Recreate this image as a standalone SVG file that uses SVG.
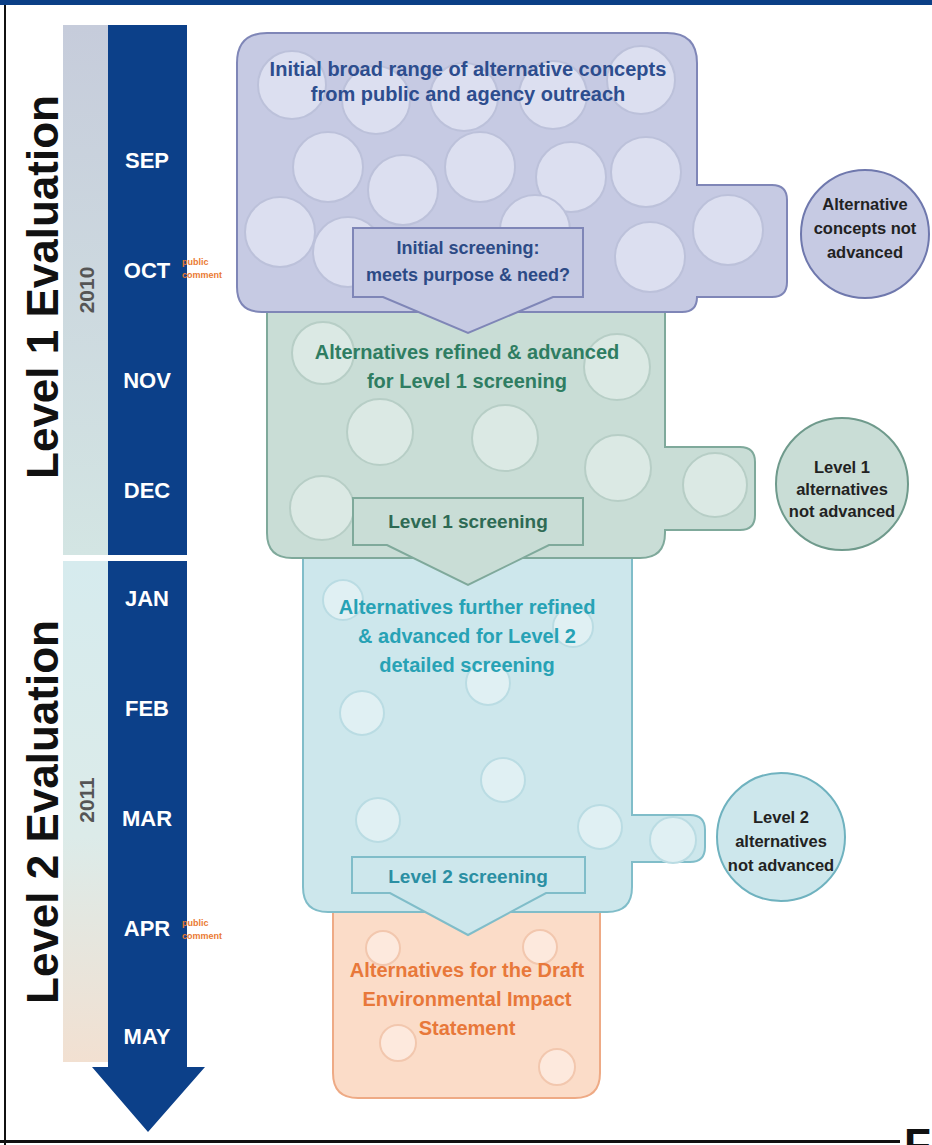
<svg xmlns="http://www.w3.org/2000/svg" width="932" height="1145" viewBox="0 0 932 1145">
<defs>
<linearGradient id="g2010" x1="0" y1="0" x2="0" y2="1"><stop offset="0" stop-color="#c6ccdb"/><stop offset="1" stop-color="#d3e5e3"/></linearGradient>
<linearGradient id="g2011" x1="0" y1="0" x2="0" y2="1"><stop offset="0" stop-color="#d6ebee"/><stop offset="0.55" stop-color="#dcebe9"/><stop offset="1" stop-color="#f2e0d1"/></linearGradient>
<style>
text{font-family:"Liberation Sans",Arial,sans-serif;font-weight:bold}
.month{fill:#ffffff;font-size:22px;text-anchor:middle}
.pc{fill:#ea7a33;font-size:9px}
.lvl{fill:#111111;font-size:44px;text-anchor:middle}
.yr{fill:#555555;font-size:21px;text-anchor:middle}
.s1{fill:#c6cae3;stroke:#7f86b7;stroke-width:2}
.c1{fill:#dcdff0;stroke:#bcc1da;stroke-width:2}
.s2{fill:#c9ddd6;stroke:#7fa99b;stroke-width:2}
.c2{fill:#dbe9e4;stroke:#b7cec6;stroke-width:2}
.s3{fill:#cde7ec;stroke:#80bdc9;stroke-width:2}
.c3{fill:#e0f0f3;stroke:#badce3;stroke-width:2}
.s4{fill:#fbdcc8;stroke:#eeaa85;stroke-width:2}
.c4{fill:#fde9dd;stroke:#f2c7ae;stroke-width:2}
.h{font-size:20px;text-anchor:middle}
.sc{font-size:19px;text-anchor:middle}
.sci{font-size:18px;text-anchor:middle}
.ot{font-size:16.5px;text-anchor:middle;fill:#222222}
</style>
</defs>
<rect x="0" y="0" width="932" height="1145" fill="#ffffff"/>

<g id="timeline">
<rect x="63" y="25" width="45" height="530" fill="url(#g2010)"/>
<rect x="63" y="561" width="45" height="501" fill="url(#g2011)"/>
<rect x="108" y="25" width="79" height="530" fill="#0c4089"/>
<path d="M108,561 H187 V1067 H205 L148,1132 L92,1067 H108 Z" fill="#0c4089"/>
<text class="lvl" transform="translate(58,287) rotate(-90)">Level 1 Evaluation</text>
<text class="lvl" transform="translate(58,812) rotate(-90)">Level 2 Evaluation</text>
<text class="yr" transform="translate(94,290) rotate(-90)">2010</text>
<text class="yr" transform="translate(94,800) rotate(-90)">2011</text>
<text class="month" x="147" y="168">SEP</text>
<text class="month" x="147" y="278">OCT</text>
<text class="month" x="147" y="388">NOV</text>
<text class="month" x="147" y="498">DEC</text>
<text class="month" x="147" y="606">JAN</text>
<text class="month" x="147" y="716">FEB</text>
<text class="month" x="147" y="826">MAR</text>
<text class="month" x="147" y="936">APR</text>
<text class="month" x="147" y="1044">MAY</text>
<text class="pc" x="182" y="265">public</text>
<text class="pc" x="182" y="278">comment</text>
<text class="pc" x="182" y="926">public</text>
<text class="pc" x="182" y="939">comment</text>
</g>

<g id="stage-deis">
<path class="s4" d="M333,905 H600 V1073 Q600,1098 575,1098 H358 Q333,1098 333,1073 Z"/>
<circle class="c4" cx="383" cy="948" r="17"/>
<circle class="c4" cx="540" cy="947" r="17"/>
<circle class="c4" cx="398" cy="1043" r="18"/>
<circle class="c4" cx="557" cy="1067" r="18"/>
<text class="h" fill="#e8783a" x="467" y="977">Alternatives for the Draft</text>
<text class="h" fill="#e8783a" x="467" y="1006">Environmental Impact</text>
<text class="h" fill="#e8783a" x="467" y="1035">Statement</text>
</g>

<g id="stage-level2">
<path class="s3" d="M303,552 H632 V815 H690 Q705,815 705,830 V847 Q705,862 690,862 H632 V887 Q632,912 607,912 H328 Q303,912 303,887 Z"/>
<circle class="c3" cx="343" cy="600" r="20"/>
<circle class="c3" cx="573" cy="627" r="20"/>
<circle class="c3" cx="488" cy="683" r="22"/>
<circle class="c3" cx="362" cy="713" r="22"/>
<circle class="c3" cx="503" cy="780" r="22"/>
<circle class="c3" cx="378" cy="820" r="22"/>
<circle class="c3" cx="600" cy="827" r="22"/>
<circle class="c3" cx="673" cy="840" r="23"/>
<text class="h" fill="#27a2b5" x="467" y="614">Alternatives further refined</text>
<text class="h" fill="#27a2b5" x="467" y="643">&amp; advanced for Level 2</text>
<text class="h" fill="#27a2b5" x="467" y="672">detailed screening</text>
</g>
<g id="screen-level2">
<path class="s3" d="M352,857 H585 V893 H546 L468,935 L390,893 H352 Z"/>
<text class="sc" fill="#2a8fa3" x="468" y="883">Level 2 screening</text>
</g>

<g id="stage-level1">
<path class="s2" d="M267,305 H665 V447 H740 Q755,447 755,462 V515 Q755,530 740,530 H665 V533 Q665,558 640,558 H292 Q267,558 267,533 Z"/>
<circle class="c2" cx="323" cy="353" r="31"/>
<circle class="c2" cx="617" cy="367" r="33"/>
<circle class="c2" cx="380" cy="432" r="33"/>
<circle class="c2" cx="505" cy="438" r="33"/>
<circle class="c2" cx="618" cy="468" r="33"/>
<circle class="c2" cx="715" cy="485" r="32"/>
<circle class="c2" cx="322" cy="508" r="32"/>
<text class="h" fill="#2f7d62" x="467" y="359">Alternatives refined &amp; advanced</text>
<text class="h" fill="#2f7d62" x="467" y="388">for Level 1 screening</text>
</g>
<g id="screen-level1">
<path class="s2" d="M353,498 H583 V545 H549 L468,585 L387,545 H353 Z"/>
<text class="sc" fill="#2e6a54" x="468" y="528">Level 1 screening</text>
</g>

<g id="stage-initial">
<path class="s1" d="M267,33 H667 Q697,33 697,63 V185 H772 Q787,185 787,200 V282 Q787,297 772,297 H697 Q697,312 682,312 H262 Q237,312 237,287 V63 Q237,33 267,33 Z"/>
<circle class="c1" cx="292" cy="85" r="34"/>
<circle class="c1" cx="376" cy="100" r="34"/>
<circle class="c1" cx="464" cy="97" r="34"/>
<circle class="c1" cx="553" cy="95" r="34"/>
<circle class="c1" cx="641" cy="80" r="34"/>
<circle class="c1" cx="328" cy="167" r="35"/>
<circle class="c1" cx="403" cy="190" r="35"/>
<circle class="c1" cx="480" cy="167" r="35"/>
<circle class="c1" cx="571" cy="177" r="35"/>
<circle class="c1" cx="646" cy="172" r="35"/>
<circle class="c1" cx="280" cy="232" r="35"/>
<circle class="c1" cx="348" cy="252" r="35"/>
<circle class="c1" cx="535" cy="230" r="35"/>
<circle class="c1" cx="650" cy="257" r="35"/>
<circle class="c1" cx="728" cy="230" r="35"/>
<text class="h" fill="#2d4d8e" x="468" y="76">Initial broad range of alternative concepts</text>
<text class="h" fill="#2d4d8e" x="468" y="101">from public and agency outreach</text>
</g>
<g id="screen-initial">
<path class="s1" d="M353,228 H583 V297 H553 L468,333 L383,297 H353 Z"/>
<text class="sci" fill="#2c4a86" x="468" y="254">Initial screening:</text>
<text class="sci" fill="#2c4a86" x="468" y="281">meets purpose &amp; need?</text>
</g>

<g id="out-initial">
<circle cx="865" cy="234" r="64" fill="#c6cae3" stroke="#6f78ad" stroke-width="2"/>
<text class="ot" x="865" y="210">Alternative</text>
<text class="ot" x="865" y="234">concepts not</text>
<text class="ot" x="865" y="258">advanced</text>
</g>
<g id="out-level1">
<circle cx="842" cy="484" r="66" fill="#c9ddd6" stroke="#6f9a8c" stroke-width="2"/>
<text class="ot" x="842" y="473">Level 1</text>
<text class="ot" x="842" y="495">alternatives</text>
<text class="ot" x="842" y="517">not advanced</text>
</g>
<g id="out-level2">
<circle cx="781" cy="837" r="64" fill="#cde7ec" stroke="#6fb2bf" stroke-width="2"/>
<text class="ot" x="781" y="823">Level 2</text>
<text class="ot" x="781" y="847">alternatives</text>
<text class="ot" x="781" y="871">not advanced</text>
</g>

<g id="frame">
<rect x="0" y="0" width="932" height="5" fill="#0b3f86"/>
<rect x="4" y="5" width="2" height="1140" fill="#111111"/>
<rect x="0" y="1140" width="900" height="3" fill="#111111"/>
<text x="904" y="1160" font-size="44" fill="#111111">F</text>
</g>
</svg>
